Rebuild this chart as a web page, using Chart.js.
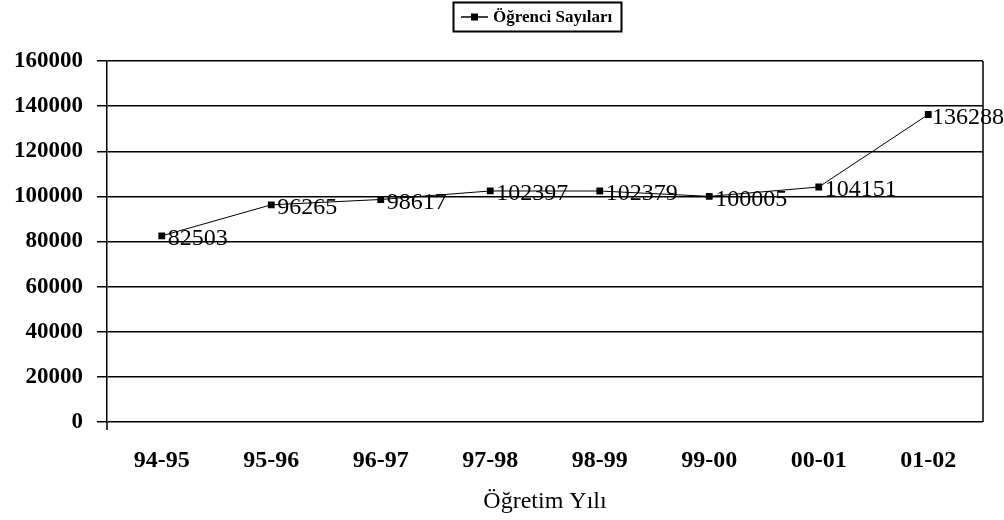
<!DOCTYPE html>
<html>
<head>
<meta charset="utf-8">
<script src="https://cdn.jsdelivr.net/npm/chart.js@4/dist/chart.umd.min.js"></script>
<style>
  html, body { margin: 0; padding: 0; background: #fff; }
  #wrap { width: 1004px; height: 520px; position: relative; }
</style>
</head>
<body>
<div id="wrap"><canvas id="c" width="1004" height="520"></canvas></div>
<script>
const categories = ["94-95", "95-96", "96-97", "97-98", "98-99", "99-00", "00-01", "01-02"];
const studentCounts = [82503, 96265, 98617, 102397, 102379, 100005, 104151, 136288];
const seriesName = "Öğrenci Sayıları";
const xAxisTitle = "Öğretim Yılı";
const yTickMax = 160000;
const yTickStep = 20000;

const SERIF = '"Liberation Serif", "Times New Roman", serif';

const valueLabels = {
  id: 'valueLabels',
  afterDatasetsDraw(chart) {
    const ctx = chart.ctx;
    const meta = chart.getDatasetMeta(0);
    ctx.save();
    ctx.font = '24px ' + SERIF;
    ctx.fillStyle = '#000';
    ctx.textBaseline = 'middle';
    ctx.textAlign = 'left';
    meta.data.forEach((pt, i) => {
      const txt = String(chart.data.datasets[0].data[i]);
      const w = ctx.measureText(txt).width;
      let x = pt.x + 6;
      if (x + w > chart.width) x = chart.width - w;
      ctx.fillText(txt, x, pt.y + 3);
    });
    ctx.restore();
  }
};

const frameAndLegend = {
  id: 'frameAndLegend',
  beforeDatasetsDraw(chart) {
    const ctx = chart.ctx;
    const a = chart.chartArea;
    ctx.save();
    ctx.strokeStyle = '#000';
    ctx.lineWidth = 1.5;
    ctx.beginPath();
    ctx.moveTo(a.right, a.top);
    ctx.lineTo(a.right, a.bottom);
    ctx.moveTo(a.left, a.bottom);
    ctx.lineTo(a.left, a.bottom + 8);
    ctx.stroke();
    ctx.restore();
  },
  afterDraw(chart) {
    const ctx = chart.ctx;
    ctx.save();
    // legend box
    const bx = 453, by = 2, bw = 168, bh = 29;
    ctx.strokeStyle = '#000';
    ctx.lineWidth = 2;
    ctx.strokeRect(bx + 0.5, by + 0.5, bw, bh);
    const cy = by + bh / 2 + 0.5;
    ctx.lineWidth = 1.5;
    ctx.beginPath();
    ctx.moveTo(bx + 8, cy);
    ctx.lineTo(bx + 35, cy);
    ctx.stroke();
    ctx.fillStyle = '#000';
    ctx.fillRect(bx + 18, cy - 3.5, 7, 7);
    ctx.font = 'bold 17px ' + SERIF;
    ctx.textBaseline = 'middle';
    ctx.textAlign = 'left';
    ctx.fillText(seriesName, bx + 40, cy + 1);
    ctx.restore();
  }
};

new Chart(document.getElementById('c'), {
  type: 'line',
  data: {
    labels: categories,
    datasets: [{
      label: seriesName,
      data: studentCounts,
      borderColor: '#000',
      backgroundColor: '#000',
      borderWidth: 1,
      pointStyle: 'rect',
      pointRadius: 4.8,
      pointBackgroundColor: '#000',
      pointBorderColor: '#000',
      pointBorderWidth: 0,
      tension: 0,
      fill: false
    }]
  },
  options: {
    responsive: false,
    animation: false,
    devicePixelRatio: 1,
    layout: { padding: { top: 61, right: 21, bottom: 0, left: 0 } },
    plugins: {
      legend: { display: false },
      tooltip: { enabled: false },
      title: { display: false }
    },
    scales: {
      x: {
        type: 'category',
        offset: true,
        grid: { display: false, drawTicks: false },
        border: { display: false },
        ticks: {
          font: { family: SERIF, size: 24, weight: 'bold' },
          color: '#000',
          padding: 24,
          maxRotation: 0,
          autoSkip: false
        },
        title: {
          display: true,
          text: xAxisTitle,
          font: { family: SERIF, size: 24, weight: 'normal' },
          color: '#000',
          padding: { top: 4, bottom: 4 }
        },
        afterFit(scale) { scale.height = 98; }
      },
      y: {
        min: 0,
        max: yTickMax,
        grid: {
          color: '#000',
          lineWidth: 1.5,
          drawTicks: true,
          tickLength: 10
        },
        border: { display: true, color: '#000', width: 1.5 },
        ticks: {
          stepSize: yTickStep,
          font: { family: SERIF, size: 23, weight: 'bold' },
          color: '#000',
          padding: 14,
          callback: (v) => String(v)
        },
        afterFit(scale) { scale.width = 107; }
      }
    }
  },
  plugins: [valueLabels, frameAndLegend]
});
</script>
</body>
</html>
